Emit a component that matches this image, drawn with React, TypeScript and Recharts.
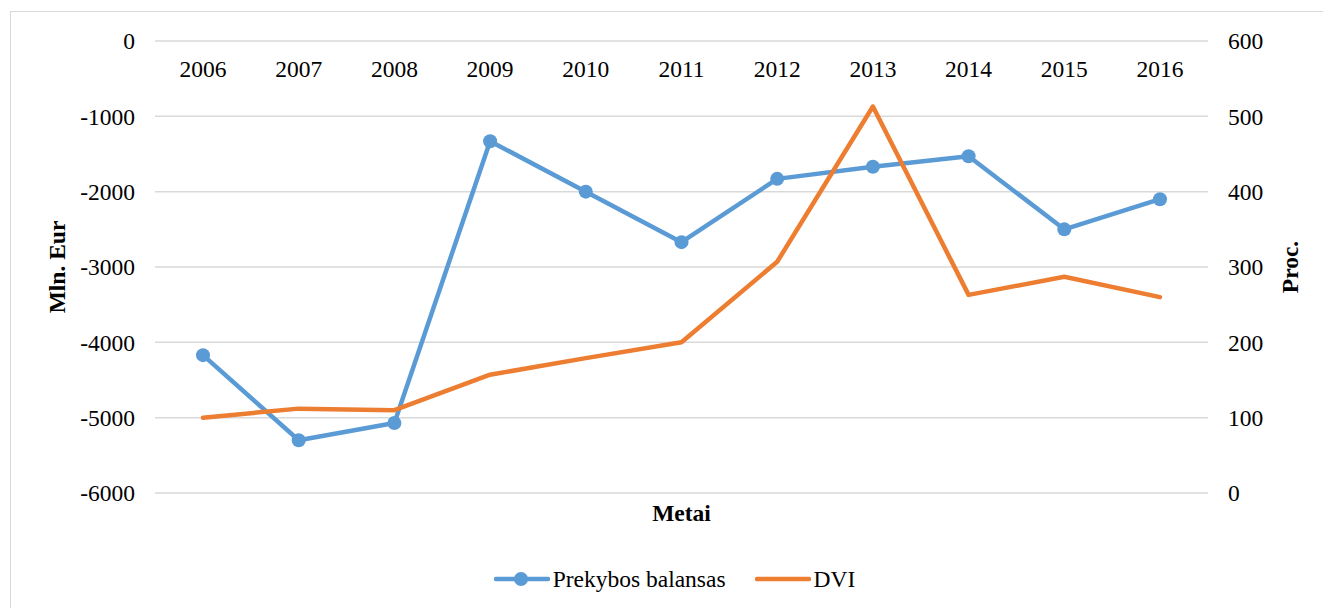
import { LineChart, Line, XAxis, YAxis, CartesianGrid, Legend, Label } from "recharts";

const YEARS = ["2006", "2007", "2008", "2009", "2010", "2011", "2012", "2013", "2014", "2015", "2016"];
const BALANCE = [-4170, -5300, -5070, -1330, -2000, -2670, -1830, -1670, -1530, -2500, -2100];
const DVI = [100, 112, 110, 157, 179, 200, 307, 513, 263, 287, 260];
const LEFT_TICKS = [-6000, -5000, -4000, -3000, -2000, -1000, 0];
const RIGHT_TICKS = [0, 100, 200, 300, 400, 500, 600];

const BLUE = "#5b9bd5";
const ORANGE = "#ed7d31";
const FONT = "'Liberation Serif', 'Times New Roman', serif";
const FS = 23.5;

const data = YEARS.map((year, i) => ({ year, balance: BALANCE[i], dvi: DVI[i] }));

const tickStyle = { fill: "#000", fontSize: FS, fontFamily: FONT };

function LegendBox() {
  return (
    <div
      style={{
        height: 30,
        display: "flex",
        justifyContent: "center",
        alignItems: "center",
        fontFamily: FONT,
        fontSize: FS,
        color: "#000",
        paddingRight: 14,
      }}
    >
      <svg width={56} height={16} style={{ marginRight: 3 }}>
        <line x1={2} y1={8} x2={54} y2={8} stroke={BLUE} strokeWidth={4.5} strokeLinecap="round" />
        <circle cx={27} cy={8} r={7} fill={BLUE} />
      </svg>
      <span style={{ marginRight: 29 }}>Prekybos balansas</span>
      <svg width={56} height={16} style={{ marginRight: 3 }}>
        <line x1={2} y1={8} x2={54} y2={8} stroke={ORANGE} strokeWidth={4.5} strokeLinecap="round" />
      </svg>
      <span>DVI</span>
    </div>
  );
}

export default function App() {
  return (
    <div
      style={{
        position: "absolute",
        left: 0,
        top: 0,
        width: 1323,
        height: 608,
        overflow: "hidden",
        background: "#fff",
        fontFamily: FONT,
      }}
    >
      <div
        style={{
          position: "absolute",
          left: 10,
          top: 11,
          width: 1340,
          height: 640,
          border: "1.5px solid #d9d9d9",
        }}
      />
      <LineChart
        width={1323}
        height={608}
        data={data}
        margin={{ top: 41, right: 55, bottom: 14, left: 95 }}
        style={{ position: "absolute", left: 0, top: 0 }}
      >
        <CartesianGrid xAxisId="top" yAxisId="left" vertical={false} stroke="#d9d9d9" strokeWidth={1.5} />
        <XAxis
          xAxisId="top"
          dataKey="year"
          orientation="top"
          mirror
          axisLine={false}
          tickLine={false}
          tickSize={0}
          tickMargin={19}
          padding={{ left: 48, right: 48 }}
          tick={tickStyle}
          interval={0}
        />
        <XAxis
          xAxisId="bottom"
          dataKey="year"
          orientation="bottom"
          height={71}
          axisLine={false}
          tickLine={false}
          tick={false}
          padding={{ left: 48, right: 48 }}
        >
          <Label
            content={({ viewBox }: any) => (
              <text
                x={viewBox.x + viewBox.width / 2}
                y={viewBox.y + 20}
                textAnchor="middle"
                dominantBaseline="central"
                fontFamily={FONT}
                fontSize={FS}
                fontWeight="bold"
                fill="#000"
              >
                Metai
              </text>
            )}
          />
        </XAxis>
        <YAxis
          yAxisId="left"
          width={60}
          domain={[-6000, 0]}
          ticks={LEFT_TICKS}
          axisLine={false}
          tickLine={false}
          tickSize={0}
          tickMargin={20}
          tick={tickStyle}
        >
          <Label
            content={({ viewBox }: any) => {
              const x = viewBox.x - 38;
              const y = viewBox.y + viewBox.height / 2;
              return (
                <text
                  x={x}
                  y={y}
                  transform={`rotate(-90 ${x} ${y})`}
                  textAnchor="middle"
                  dominantBaseline="central"
                  fontFamily={FONT}
                  fontSize={FS}
                  fontWeight="bold"
                  fill="#000"
                >
                  Mln. Eur
                </text>
              );
            }}
          />
        </YAxis>
        <YAxis
          yAxisId="right"
          orientation="right"
          width={60}
          domain={[0, 600]}
          ticks={RIGHT_TICKS}
          axisLine={false}
          tickLine={false}
          tickSize={0}
          tickMargin={20}
          tick={tickStyle}
        >
          <Label
            content={({ viewBox }: any) => {
              const x = viewBox.x + 82;
              const y = viewBox.y + viewBox.height / 2;
              return (
                <text
                  x={x}
                  y={y}
                  transform={`rotate(-90 ${x} ${y})`}
                  textAnchor="middle"
                  dominantBaseline="central"
                  fontFamily={FONT}
                  fontSize={FS}
                  fontWeight="bold"
                  fill="#000"
                >
                  Proc.
                </text>
              );
            }}
          />
        </YAxis>
        <Line
          xAxisId="top"
          yAxisId="left"
          dataKey="balance"
          name="Prekybos balansas"
          type="linear"
          stroke={BLUE}
          strokeWidth={4.5}
          strokeLinecap="round"
          strokeLinejoin="round"
          dot={{ r: 7, fill: BLUE, stroke: "none" }}
          activeDot={false}
          isAnimationActive={false}
        />
        <Line
          xAxisId="top"
          yAxisId="right"
          dataKey="dvi"
          name="DVI"
          type="linear"
          stroke={ORANGE}
          strokeWidth={4.5}
          strokeLinecap="round"
          strokeLinejoin="round"
          dot={false}
          activeDot={false}
          isAnimationActive={false}
        />
        <Legend verticalAlign="bottom" align="center" content={() => <LegendBox />} />
      </LineChart>
    </div>
  );
}
